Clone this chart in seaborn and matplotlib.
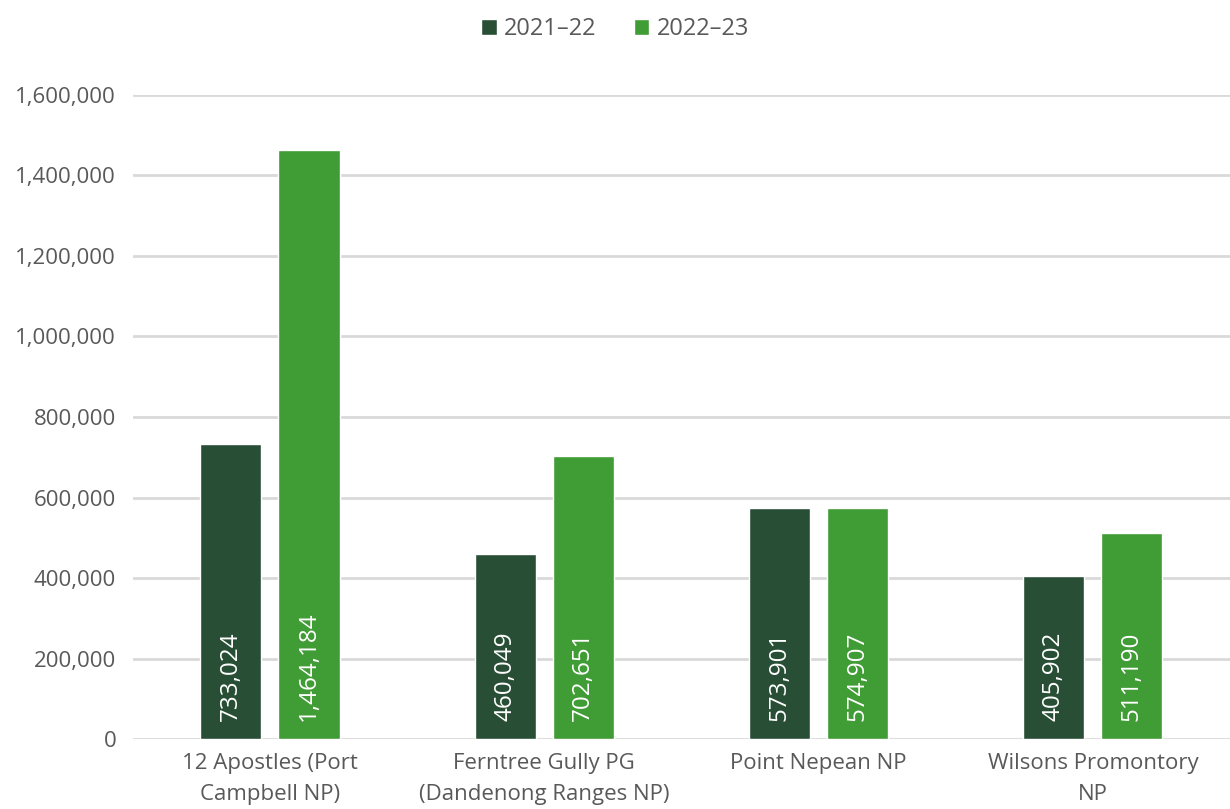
import matplotlib
matplotlib.use("Agg")
import matplotlib.pyplot as plt
import seaborn as sns
import pandas as pd
from matplotlib.patches import Patch

categories = ["12 Apostles (Port\nCampbell NP)", "Ferntree Gully PG\n(Dandenong Ranges NP)",
              "Point Nepean NP", "Wilsons Promontory\nNP"]
series_names = ["2021\u201322", "2022\u201323"]
values_2021_22 = [733024, 460049, 573901, 405902]
values_2022_23 = [1464184, 702651, 574907, 511190]
yticks = [0, 200000, 400000, 600000, 800000, 1000000, 1200000, 1400000, 1600000]
colors = ["#284f35", "#409c35"]

df = pd.DataFrame({
    "category": categories * 2,
    "season": [series_names[0]] * 4 + [series_names[1]] * 4,
    "value": values_2021_22 + values_2022_23,
})

sns.set_theme(style="white")
plt.rcParams['font.family'] = ['Open Sans', 'DejaVu Sans']
text_color = "#595959"

fig = plt.figure(figsize=(12.3, 8.09), dpi=100)
ax = fig.add_axes([0.108, 0.0865, 0.892, 0.7961])

sns.barplot(data=df, x="category", y="value", hue="season", order=categories,
            hue_order=series_names, palette=colors, width=0.569, gap=0.218,
            saturation=1, ax=ax, legend=False, errorbar=None)

ax.set_ylim(0, 1600000)
ax.set_xlim(-0.5, 3.5)
ax.set_yticks(yticks)
ax.set_yticklabels([f"{v:,}" for v in yticks])
ax.yaxis.grid(True, color="#d9d9d9", linewidth=2)
ax.set_axisbelow(True)
for s in ax.spines.values():
    s.set_visible(False)
ax.tick_params(axis="both", length=0, labelsize=16, colors=text_color)
ax.tick_params(axis="y", pad=12)
ax.tick_params(axis="x", pad=10)
for lbl in ax.get_xticklabels():
    lbl.set_linespacing(1.65)
ax.set_xlabel("")
ax.set_ylabel("")

for container in ax.containers:
    for bar in container:
        h = bar.get_height()
        ax.text(bar.get_x() + bar.get_width() / 2, 45000, f"{int(round(h)):,}",
                rotation=90, ha="center", va="bottom", color="white", fontsize=17.5)

handles = [Patch(facecolor=c, label=n) for c, n in zip(colors, series_names)]
fig.legend(handles=handles, loc="upper center", bbox_to_anchor=(0.5, 1.005), ncol=2,
           frameon=False, fontsize=17, labelcolor=text_color, handlelength=0.65,
           handleheight=0.65, handletextpad=0.3, columnspacing=1.6)

fig.savefig("out.png", dpi=100)
